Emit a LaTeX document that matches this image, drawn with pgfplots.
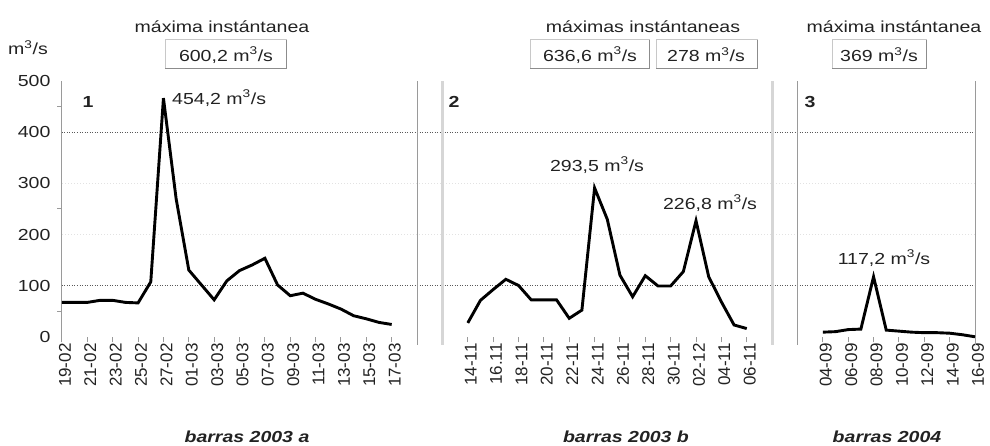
\documentclass[border=0pt]{standalone}
\usepackage{fontspec}
\setmainfont{Liberation Sans}
\usepackage{graphicx}
\usepackage{pgfplots}
\pgfplotsset{compat=1.18}
\newcommand{\hs}[1]{\scalebox{1.22}[1]{#1}}
\newcommand{\ms}{m\textsuperscript{3}/s}
\newcommand{\fs}{\fontsize{16}{19}\selectfont}
\definecolor{txt}{HTML}{222222}
\definecolor{sepdark}{HTML}{9A9A9A}
\definecolor{seplight}{HTML}{D6D6D6}
\definecolor{gridlight}{HTML}{E2E2E2}
\definecolor{boxlight}{HTML}{C8C8C8}
\definecolor{boxdark}{HTML}{8C8C8C}
\begin{document}
\begin{tikzpicture}[x=1pt,y=1pt]
\path[use as bounding box] (0,0) rectangle (990,446);
\begin{axis}[
  at={(62pt,108.7pt)}, anchor=south west,
  scale only axis, width=913pt, height=256.6pt,
  xmin=0, xmax=72, ymin=0, ymax=500,
  clip=false,
  axis lines*=left,
  separate axis lines,
  x axis line style={draw=none},
  y axis line style={draw=sepdark, line width=1pt, shorten <=-5pt},
  tick align=outside,
  major tick length=5pt,
  xtick style={draw=sepdark, line width=1pt},
  ytick style={draw=none},
  xtick={0,2,4,6,8,10,12,14,16,18,20,22,24,26,32,34,36,38,40,42,44,46,48,50,52,54,60,62,64,66,68,70,72},
  xticklabels={19-02,21-02,23-02,25-02,27-02,01-03,03-03,05-03,07-03,09-03,11-03,13-03,15-03,17-03,14-11,16.11,18-11,20-11,22-11,24-11,26-11,28-11,30-11,02-12,04-11,06-11,04-09,06-09,08-09,10-09,12-09,14-09,16-09},
  xticklabel style={rotate=90, anchor=east, font=\fontsize{17}{19}\selectfont, text=txt, yshift=-3pt, inner sep=1pt},
  ytick={0,100,200,300,400,500},
  yticklabels={\hs{0},\hs{100},\hs{200},\hs{300},\hs{400},\hs{500}},
  yticklabel style={anchor=east, font=\fs, text=txt, xshift=-3pt},
]
% grid lines
\draw[gridlight, line width=1pt, dash pattern=on 1pt off 2pt] (axis cs:0,200) -- (axis cs:72,200);
\draw[gridlight, line width=1pt, dash pattern=on 1pt off 2pt] (axis cs:0,300) -- (axis cs:72,300);
\draw[black!65, line width=1pt, dash pattern=on 1pt off 1.5pt] (axis cs:0,100) -- (axis cs:72,100);
\draw[black!65, line width=1pt, dash pattern=on 1pt off 1.5pt] (axis cs:0,400) -- (axis cs:72,400);
% minor y ticks
\draw[sepdark, line width=1pt] (axis cs:0,50) -- ++(-5pt,0);
\draw[sepdark, line width=1pt] (axis cs:0,250) -- ++(-5pt,0);
\draw[sepdark, line width=1pt] (axis cs:0,450) -- ++(-5pt,0);
% separators
\draw[sepdark, line width=1pt] (axis cs:28,-15) -- (axis cs:28,500);
\draw[seplight, line width=3pt] (axis cs:30,-15) -- (axis cs:30,500);
\draw[seplight, line width=3pt] (axis cs:56,-15) -- (axis cs:56,500);
\draw[sepdark, line width=1pt] (axis cs:58,-15) -- (axis cs:58,500);
\draw[sepdark, line width=1pt] (axis cs:72,-15) -- (axis cs:72,500);
% data
\addplot[black, line width=2.9pt, mark=none] coordinates {
(0,68) (1,68) (2,68) (3,72) (4,72) (5,68) (6,67) (7,108) (8,466) (9,270)
(10,131) (11,102) (12,73) (13,110) (14,130) (15,141) (16,154) (17,102) (18,81) (19,86)
(20,74) (21,65) (22,55) (23,42) (24,36) (25,29) (26,25)
};
\addplot[black, line width=2.9pt, mark=none] coordinates {
(32,28) (33,72) (34,93) (35,113) (36,101) (37,73) (38,73) (39,73) (40,37) (41,53)
(42,291) (43,230) (44,121) (45,79) (46,120) (47,100) (48,100) (49,128) (50,227) (51,118)
(52,69) (53,24) (54,17)
};
\addplot[black, line width=2.9pt, mark=none] coordinates {
(60,10) (61,11) (62,15) (63,16) (64,118) (65,14) (66,12) (67,10) (68,9) (69,9)
(70,8) (71,5) (72,1)
};
\end{axis}
% unit label
\node[font=\fs, text=txt, anchor=west, inner sep=0] at (8,398) {\hs{\ms}};
% panel numbers
\node[font=\fs\bfseries, text=txt, inner sep=0] at (88,344) {\hs{1}};
\node[font=\fs\bfseries, text=txt, inner sep=0] at (454,344) {\hs{2}};
\node[font=\fs\bfseries, text=txt, inner sep=0] at (810,344) {\hs{3}};
% peak labels
\node[font=\fs, text=txt, anchor=west, inner sep=0] at (172,348) {\hs{454,2 \ms}};
\node[font=\fs, text=txt, inner sep=0] at (597,281) {\hs{293,5 \ms}};
\node[font=\fs, text=txt, inner sep=0] at (710,243) {\hs{226,8 \ms}};
\node[font=\fs, text=txt, inner sep=0] at (884,188) {\hs{117,2 \ms}};
% titles
\node[font=\fs, text=txt, inner sep=0] at (222,419) {\hs{máxima instántanea}};
\node[font=\fs, text=txt, inner sep=0] at (643,419) {\hs{máximas instántaneas}};
\node[font=\fs, text=txt, inner sep=0] at (894,419) {\hs{máxima instántanea}};
% boxes
\draw[boxlight, line width=1pt] (165,377) rectangle (286,406);
\draw[boxdark, line width=1pt] (165,377) -- (286,377) -- (286,406);
\draw[boxlight, line width=1pt] (530,377) rectangle (649,406);
\draw[boxdark, line width=1pt] (530,377) -- (649,377) -- (649,406);
\draw[boxlight, line width=1pt] (656,377) rectangle (757,406);
\draw[boxdark, line width=1pt] (656,377) -- (757,377) -- (757,406);
\draw[boxlight, line width=1pt] (832,377) rectangle (926,406);
\draw[boxdark, line width=1pt] (832,377) -- (926,377) -- (926,406);
\node[font=\fs, text=txt, inner sep=0] at (226,391) {\hs{600,2 \ms}};
\node[font=\fs, text=txt, inner sep=0] at (590,391) {\hs{636,6 \ms}};
\node[font=\fs, text=txt, inner sep=0] at (706,391) {\hs{278 \ms}};
\node[font=\fs, text=txt, inner sep=0] at (879,391) {\hs{369 \ms}};
% bottom group labels
\node[font=\fs\bfseries\itshape, text=txt, inner sep=0] at (247,9) {\hs{barras 2003 a}};
\node[font=\fs\bfseries\itshape, text=txt, inner sep=0] at (626,9) {\hs{barras 2003 b}};
\node[font=\fs\bfseries\itshape, text=txt, inner sep=0] at (887,9) {\hs{barras 2004}};
\end{tikzpicture}
\end{document}
